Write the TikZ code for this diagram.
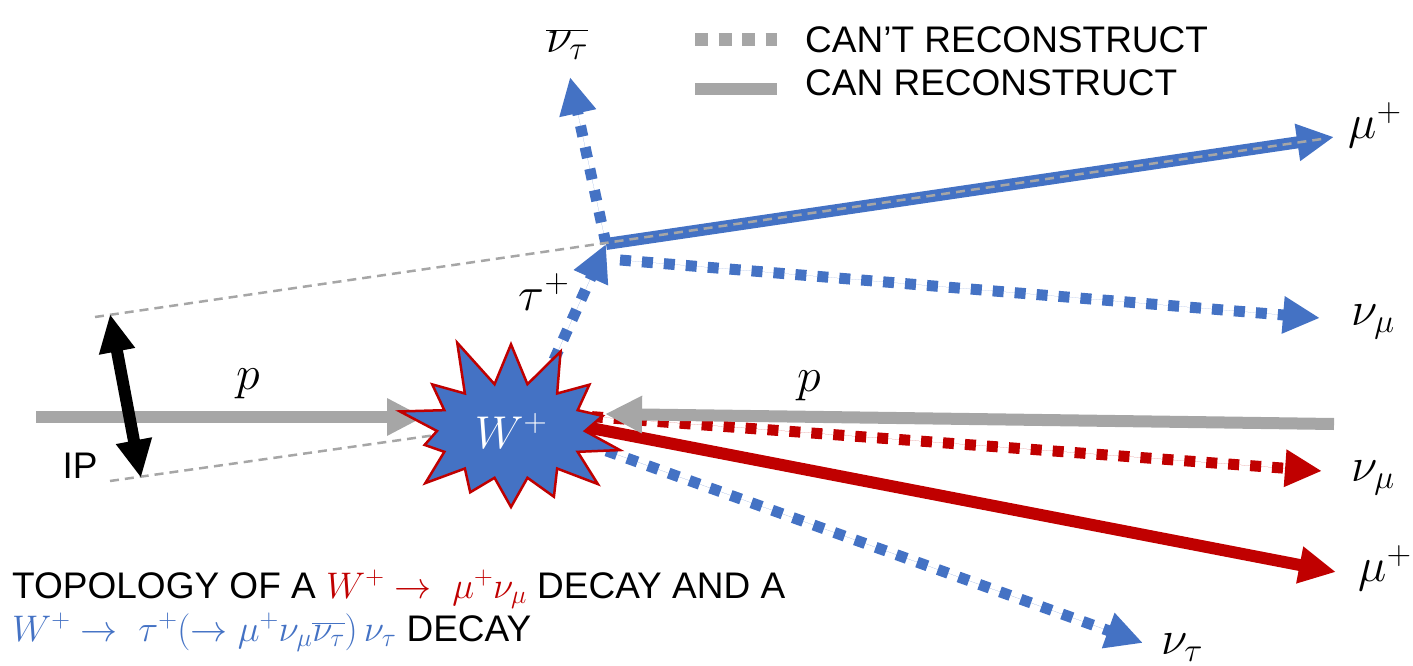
\RequirePackage{fix-cm}
\documentclass[tikz,border=0pt]{standalone}
\usepackage{fontspec}
\setmainfont{Liberation Sans}
\usetikzlibrary{arrows.meta,shapes.symbols}
\definecolor{trkblue}{HTML}{4472C4}
\definecolor{trkred}{HTML}{C00000}
\definecolor{trkgray}{HTML}{A6A6A6}
\begin{document}
\begin{tikzpicture}[
  x=1pt, y=-1pt,
  trk/.style={line width=12pt},
  trkdot/.style={line width=11pt, dash pattern=on 11pt off 11pt},
  trktip/.style={-{Triangle[length=37pt,width=35pt]}},
  ipdbl/.style={{Triangle[length=38pt,width=34pt]}-{Triangle[length=38pt,width=34pt]}, draw=black, line width=12pt},
  extrap/.style={draw=trkgray, line width=2.5pt, dash pattern=on 9pt off 6pt},
  plbl/.style={font={\fontsize{48}{56}\selectfont}, inner sep=0pt},
  txt/.style={font={\fontsize{37}{44}\selectfont}, inner sep=0pt, anchor=base west}
]
\useasboundingbox (0,0) rectangle (1413,666);
% track end points
\coordinate (pLin) at (36,417);
\coordinate (pLtip) at (424,417);
\coordinate (pRin) at (1334,424);
\coordinate (pRtip) at (605,414);
\coordinate (ipT) at (110,314);
\coordinate (ipB) at (141,478);
\coordinate (ipTd) at (95,317);
\coordinate (ipBd) at (110,481);
\coordinate (wLow) at (450,433);
\coordinate (wTau) at (545,380);
\coordinate (wMu) at (570,424);
\coordinate (wNu) at (570,415);
\coordinate (wNt) at (565,436);
\coordinate (tauV) at (606,244);
\coordinate (tauNu) at (620,260);
\coordinate (muTtip) at (1334,137);
\coordinate (muTend) at (1322,139);
\coordinate (numTtip) at (1320,318);
\coordinate (nutBtip) at (570,77);
\coordinate (numRtip) at (1322,471);
\coordinate (muRtip) at (1336,572);
\coordinate (nutRtip) at (1143,643);
% beams and IP
\draw[trk, trktip, draw=trkgray, fill=trkgray] (pLin) -- (pLtip);
\draw[extrap] (ipBd) -- (wLow);
\draw[trkdot, trktip, draw=trkblue, fill=trkblue] (wTau) -- (tauV);
\draw[trkdot, trktip, draw=trkred, fill=trkred] (wNu) -- (numRtip);
\draw[trk, trktip, draw=trkred, fill=trkred] (wMu) -- (muRtip);
\draw[trkdot, trktip, draw=trkblue, fill=trkblue] (wNt) -- (nutRtip);
% W star
\node[starburst, starburst points=14, starburst point height=52pt, random starburst=11,
  minimum width=252pt, minimum height=200pt, fill=trkblue, draw=trkred, line width=2.5pt,
  text=white, font={\fontsize{46}{54}\selectfont}] (W) at (511,431) {$W^+$};
\draw[trk, trktip, draw=trkgray, fill=trkgray] (pRin) -- (pRtip);
% tau decay
\draw[trk, trktip, draw=trkblue, fill=trkblue] (tauV) -- (muTtip);
\draw[trkdot, trktip, draw=trkblue, fill=trkblue] (tauNu) -- (numTtip);
\draw[trkdot, trktip, draw=trkblue, fill=trkblue] (tauV) -- (nutBtip);
\draw[extrap] (ipTd) -- (muTend);
\draw[ipdbl] (ipB) -- (ipT);
% labels
\node[txt, anchor=center] (ipL) at (80,466) {IP};
\node[plbl] (pL) at (248,384) {$p$};
\node[plbl] (pR) at (809,386) {$p$};
\node[plbl] (tauL) at (544,292) {$\tau^+$};
\node[plbl] (nutBl) at (567,45) {$\overline{\nu_\tau}$};
\node[plbl] (muTl) at (1375,125) {$\mu^+$};
\node[plbl] (numTl) at (1373,322) {$\nu_\mu$};
\node[plbl] (numRl) at (1373,478) {$\nu_\mu$};
\node[plbl] (muRl) at (1385,568) {$\mu^+$};
\node[plbl] (nutRl) at (1182,648) {$\nu_\tau$};
% legend
\draw[line width=13pt, dash pattern=on 13pt off 10.5pt, draw=trkgray] (695,40) -- (777,40);
\draw[line width=12pt, draw=trkgray] (695,89) -- (777,89);
\node[txt] (lgDot) at (805,53) {CAN’T RECONSTRUCT};
\node[txt] (lgSol) at (805,96) {CAN RECONSTRUCT};
% caption
\node[txt] (cap1) at (12,598) {TOPOLOGY OF A \textcolor{trkred}{$W^+\rightarrow\ \mu^+\nu_\mu$} DECAY AND A};
\node[txt] (cap2) at (12,641) {\textcolor{trkblue}{$W^+\rightarrow\ \tau^+(\rightarrow\mu^+\nu_\mu\overline{\nu_\tau})\,\nu_\tau$} DECAY};
\end{tikzpicture}
\end{document}
